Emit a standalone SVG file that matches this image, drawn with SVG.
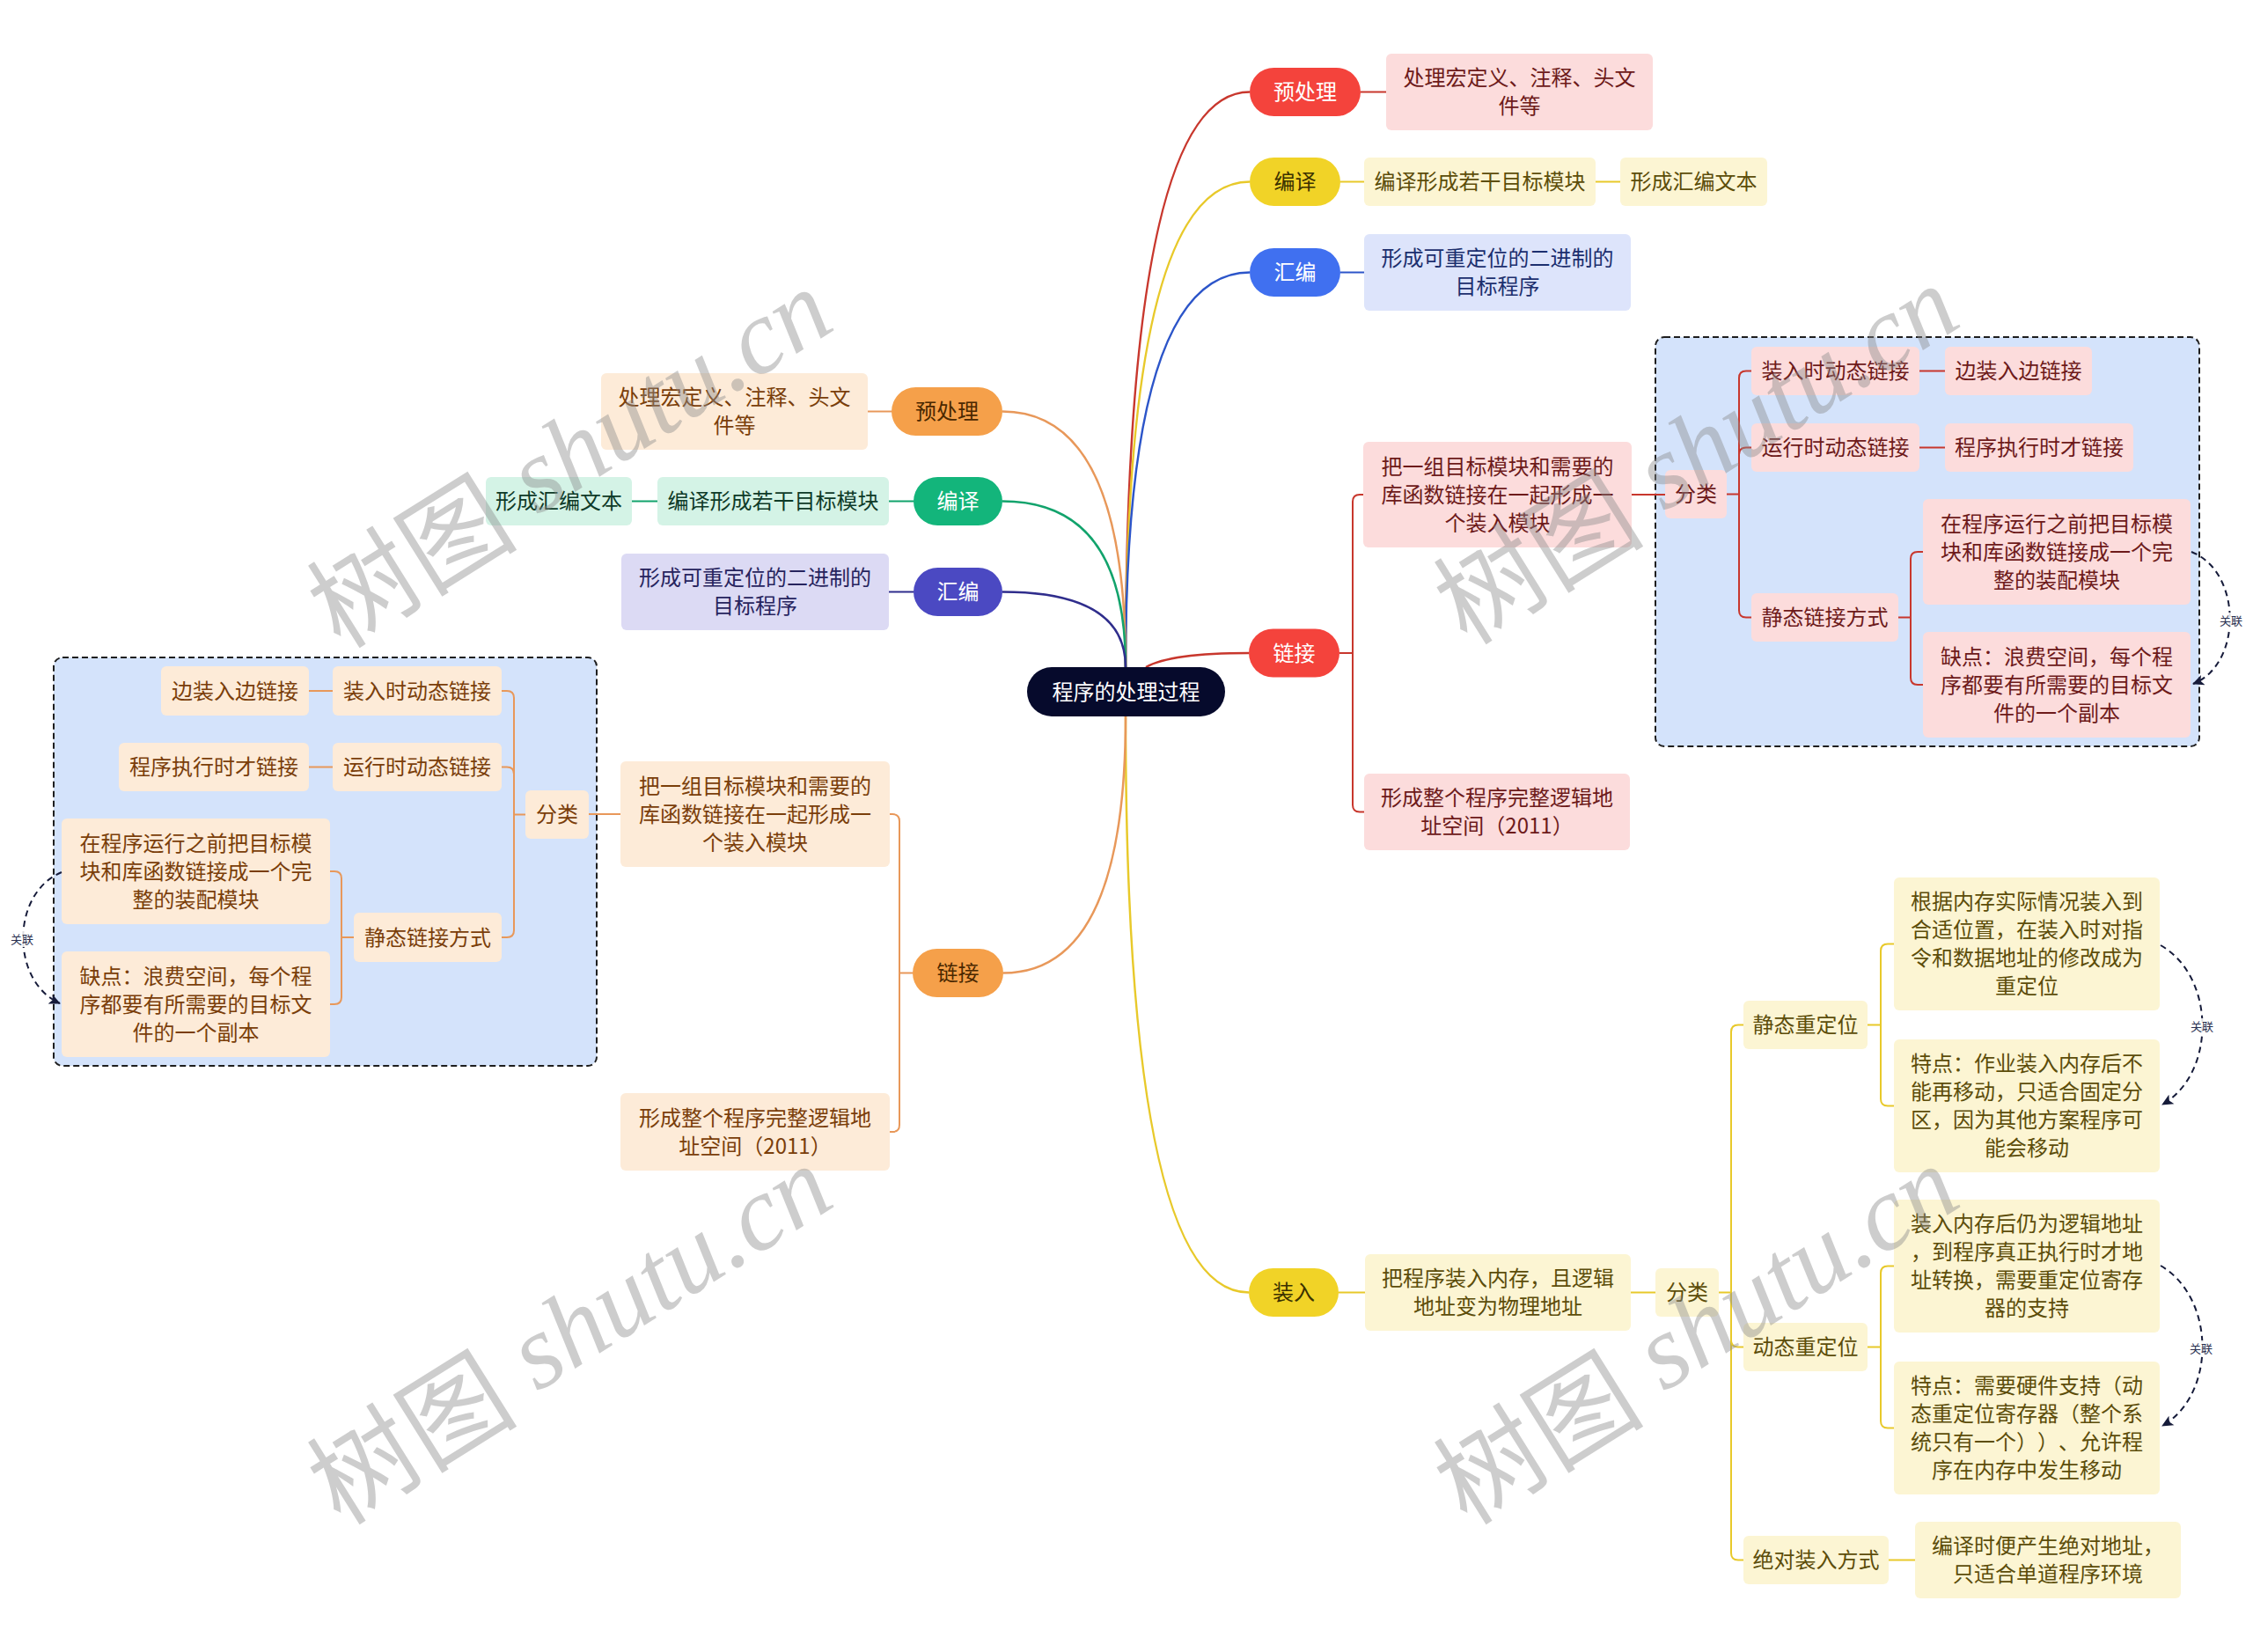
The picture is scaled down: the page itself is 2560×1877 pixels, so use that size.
<svg xmlns="http://www.w3.org/2000/svg" width="2560" height="1877" viewBox="0 0 2560 1877">
<defs>
<style>
.t{font-family:"Noto Sans CJK SC","Noto Sans",sans-serif;font-size:24px;text-anchor:middle;text-spacing-trim:space-all}
.sm{font-family:"Noto Sans CJK SC","Noto Sans",sans-serif;font-size:13px;text-anchor:middle;fill:#2a3050}
.cont{fill:#d4e3fb;stroke:#1e1e1e;stroke-width:2;stroke-dasharray:7 4}
.c{fill:none;stroke-width:2}
.m{fill:none;stroke-width:2.5}
.rel{fill:none;stroke:#161b3a;stroke-width:2;stroke-dasharray:7 5}
.red{stroke:#c8372d}.yel{stroke:#e8c92a}.blu{stroke:#2c55c9}.ora{stroke:#e8985a}.grn{stroke:#12a36c}.pur{stroke:#2f2d8c}
.nRed{fill:#f4433c}.nYel{fill:#f1d327}.nBlu{fill:#4070f0}.nOra{fill:#f5a04a}.nGrn{fill:#13b57b}.nPur{fill:#4b49c2}
.bPink{fill:#fcdcdc}.bYel{fill:#fcf5d3}.bBlu{fill:#dde4fb}.bOra{fill:#fdebd8}.bGrn{fill:#d4f3e6}.bPur{fill:#dcdaf4}
.wT{fill:#ffffff}.dY{fill:#3b3100}.dO{fill:#4a2800}
.tRed{fill:#6d1a1a}.tYel{fill:#5c4d0a}.tBlu{fill:#1c2f6e}.tOra{fill:#7a3e0a}.tGrn{fill:#0e3a28}.tPur{fill:#27245e}
.wm{font-size:120px;fill:#8a8a8a;opacity:0.42}
</style>
<marker id="arr" markerWidth="14" markerHeight="14" refX="12" refY="7" orient="auto" markerUnits="userSpaceOnUse">
<path d="M0,1 L13,7 L0,13 L3,7 Z" fill="#161b3a"/>
</marker>
</defs>
<rect width="2560" height="1877" fill="#ffffff"/>

<!-- containers -->
<rect id="containerRight" class="cont" x="1881" y="383" width="618" height="465" rx="10"/>
<rect id="containerLeft" class="cont" x="61" y="747" width="617" height="464" rx="10"/>

<g id="connectors">
<!-- main curves -->
<path class="m red" d="M1279 758 Q1279 104.5 1420 104.5"/>
<path class="m yel" d="M1279 758 Q1279 206.5 1420 206.5"/>
<path class="m blu" d="M1279 758 Q1279 309.5 1420 309.5"/>
<path class="m red" d="M1302 758 Q1330 742 1419 742"/>
<path class="m yel" d="M1279 814 Q1279 1468.5 1419 1468.5"/>
<path class="m ora" d="M1279 758 Q1279 467.5 1139 467.5"/>
<path class="m grn" d="M1279 758 Q1279 569.5 1139 569.5"/>
<path class="m pur" d="M1279 758 Q1279 672.5 1139 672.5"/>
<path class="m ora" d="M1279 814 Q1279 1105.5 1140 1105.5"/>
<!-- right red -->
<path class="c red" d="M1546 104.5 H1575"/>
<path class="c red" d="M1522 742 H1537 M1549 562 H1545 Q1537 562 1537 570 V914.5 Q1537 922.5 1545 922.5 H1550"/>
<path class="c red" d="M1854 562 H1892"/>
<path class="c red" d="M1962 561.5 H1976 M1990 421.5 H1984 Q1976 421.5 1976 429.5 V693.5 Q1976 701.5 1984 701.5 H1990 M1976 516.5 Q1976 508.5 1984 508.5 H1990"/>
<path class="c red" d="M2181 421.5 H2210 M2181 508.5 H2210"/>
<path class="c red" d="M2157 701.5 H2171 M2185 627 H2179 Q2171 627 2171 635 V770 Q2171 778 2179 778 H2185"/>
<!-- right yellow / blue -->
<path class="c yel" d="M1523 206.5 H1550 M1813 206.5 H1841"/>
<path class="c blu" d="M1523 309.5 H1550"/>
<path class="c yel" d="M1521 1468.5 H1551 M1853 1468.5 H1881"/>
<path class="c yel" d="M1953 1468.5 H1967 M1981 1164.5 H1975 Q1967 1164.5 1967 1172.5 V1764.5 Q1967 1772.5 1975 1772.5 H1981 M1967 1522.5 Q1967 1530.5 1975 1530.5 H1981"/>
<path class="c yel" d="M2122 1164.5 H2137 M2152 1072.5 H2145 Q2137 1072.5 2137 1080.5 V1248.5 Q2137 1256.5 2145 1256.5 H2152"/>
<path class="c yel" d="M2122 1530.5 H2137 M2152 1438.5 H2145 Q2137 1438.5 2137 1446.5 V1614.5 Q2137 1622.5 2145 1622.5 H2152"/>
<path class="c yel" d="M2146 1772.5 H2176"/>
<!-- left -->
<path class="c ora" d="M1013 467.5 H986"/>
<path class="c grn" d="M1038 569.5 H1010 M747 569.5 H718"/>
<path class="c pur" d="M1038 672.5 H1010"/>
<path class="c ora" d="M1037 1105.5 H1022 M1011 925 H1014 Q1022 925 1022 933 V1278 Q1022 1286 1014 1286 H1011"/>
<path class="c ora" d="M705 925 H669"/>
<path class="c ora" d="M597 925.5 H584 M570 785 H576 Q584 785 584 793 V1057 Q584 1065 576 1065 H570 M584 879.5 Q584 871.5 576 871.5 H570"/>
<path class="c ora" d="M378 785 H351 M378 871.5 H351"/>
<path class="c ora" d="M402 1065 H388 M375 990 H380 Q388 990 388 998 V1133 Q388 1141 380 1141 H375"/>
</g>

<g id="n-root"><rect x="1167" y="758" width="225" height="56" rx="28" fill="#060a2c"/><text class="t wT" x="1279.5" y="795">程序的处理过程</text></g>

<!-- right branches -->
<g id="r-pre"><rect class="nRed" x="1420" y="77" width="126" height="55" rx="27.5"/><text class="t wT" x="1483" y="113">预处理</text></g>
<g id="r-pre-1"><rect class="bPink" x="1575" y="61" width="303" height="87" rx="6"/><text class="t tRed" x="1726.5" y="97">处理宏定义、注释、头文</text><text class="t tRed" x="1726.5" y="129">件等</text></g>
<g id="r-comp"><rect class="nYel" x="1420" y="179" width="103" height="55" rx="27.5"/><text class="t dY" x="1471.5" y="215">编译</text></g>
<g id="r-comp-1"><rect class="bYel" x="1550" y="179" width="263" height="55" rx="6"/><text class="t tYel" x="1681.5" y="215">编译形成若干目标模块</text></g>
<g id="r-comp-2"><rect class="bYel" x="1841" y="179" width="167" height="55" rx="6"/><text class="t tYel" x="1924.5" y="215">形成汇编文本</text></g>
<g id="r-asm"><rect class="nBlu" x="1420" y="282" width="103" height="55" rx="27.5"/><text class="t wT" x="1471.5" y="318">汇编</text></g>
<g id="r-asm-1"><rect class="bBlu" x="1550" y="266" width="303" height="87" rx="6"/><text class="t tBlu" x="1701.5" y="302">形成可重定位的二进制的</text><text class="t tBlu" x="1701.5" y="334">目标程序</text></g>
<g id="r-link"><rect class="nRed" x="1419" y="714.5" width="103" height="55" rx="27.5"/><text class="t wT" x="1470.5" y="750.5">链接</text></g>
<g id="r-link-1"><rect class="bPink" x="1549" y="502" width="305" height="120" rx="6"/><text class="t tRed" x="1701.5" y="538.5">把一组目标模块和需要的</text><text class="t tRed" x="1701.5" y="570.5">库函数链接在一起形成一</text><text class="t tRed" x="1701.5" y="602.5">个装入模块</text></g>
<g id="r-link-cls"><rect class="bPink" x="1892" y="534" width="70" height="55" rx="6"/><text class="t tRed" x="1927" y="570">分类</text></g>
<g id="r-link-load"><rect class="bPink" x="1990" y="394" width="191" height="55" rx="6"/><text class="t tRed" x="2085.5" y="430">装入时动态链接</text></g>
<g id="r-link-load-1"><rect class="bPink" x="2210" y="394" width="167" height="55" rx="6"/><text class="t tRed" x="2293.5" y="430">边装入边链接</text></g>
<g id="r-link-run"><rect class="bPink" x="1990" y="481" width="191" height="55" rx="6"/><text class="t tRed" x="2085.5" y="517">运行时动态链接</text></g>
<g id="r-link-run-1"><rect class="bPink" x="2210" y="481" width="214" height="55" rx="6"/><text class="t tRed" x="2317" y="517">程序执行时才链接</text></g>
<g id="r-link-static"><rect class="bPink" x="1990" y="674" width="167" height="55" rx="6"/><text class="t tRed" x="2073.5" y="710">静态链接方式</text></g>
<g id="r-link-static-1"><rect class="bPink" x="2185" y="567" width="304" height="120" rx="6"/><text class="t tRed" x="2337" y="603.5">在程序运行之前把目标模</text><text class="t tRed" x="2337" y="635.5">块和库函数链接成一个完</text><text class="t tRed" x="2337" y="667.5">整的装配模块</text></g>
<g id="r-link-static-2"><rect class="bPink" x="2185" y="718" width="304" height="120" rx="6"/><text class="t tRed" x="2337" y="754.5">缺点：浪费空间，每个程</text><text class="t tRed" x="2337" y="786.5">序都要有所需要的目标文</text><text class="t tRed" x="2337" y="818.5">件的一个副本</text></g>
<g id="r-link-2"><rect class="bPink" x="1550" y="879" width="302" height="87" rx="6"/><text class="t tRed" x="1701" y="915">形成整个程序完整逻辑地</text><text class="t tRed" x="1701" y="947">址空间（2011）</text></g>
<g id="r-load"><rect class="nYel" x="1419" y="1441" width="102" height="55" rx="27.5"/><text class="t dY" x="1470" y="1477">装入</text></g>
<g id="r-load-1"><rect class="bYel" x="1551" y="1425" width="302" height="87" rx="6"/><text class="t tYel" x="1702" y="1461">把程序装入内存，且逻辑</text><text class="t tYel" x="1702" y="1493">地址变为物理地址</text></g>
<g id="r-load-cls"><rect class="bYel" x="1881" y="1441" width="72" height="55" rx="6"/><text class="t tYel" x="1917" y="1477">分类</text></g>
<g id="r-load-static"><rect class="bYel" x="1981" y="1137" width="141" height="55" rx="6"/><text class="t tYel" x="2051.5" y="1173">静态重定位</text></g>
<g id="r-load-static-1"><rect class="bYel" x="2152" y="997" width="302" height="151" rx="6"/><text class="t tYel" x="2303" y="1033">根据内存实际情况装入到</text><text class="t tYel" x="2303" y="1065">合适位置，在装入时对指</text><text class="t tYel" x="2303" y="1097">令和数据地址的修改成为</text><text class="t tYel" x="2303" y="1129">重定位</text></g>
<g id="r-load-static-2"><rect class="bYel" x="2152" y="1181" width="302" height="151" rx="6"/><text class="t tYel" x="2303" y="1217">特点：作业装入内存后不</text><text class="t tYel" x="2303" y="1249">能再移动，只适合固定分</text><text class="t tYel" x="2303" y="1281">区，因为其他方案程序可</text><text class="t tYel" x="2303" y="1313">能会移动</text></g>
<g id="r-load-dyn"><rect class="bYel" x="1981" y="1503" width="141" height="55" rx="6"/><text class="t tYel" x="2051.5" y="1539">动态重定位</text></g>
<g id="r-load-dyn-1"><rect class="bYel" x="2152" y="1363" width="302" height="151" rx="6"/><text class="t tYel" x="2303" y="1399">装入内存后仍为逻辑地址</text><text class="t tYel" x="2303" y="1431">，到程序真正执行时才地</text><text class="t tYel" x="2303" y="1463">址转换，需要重定位寄存</text><text class="t tYel" x="2303" y="1495">器的支持</text></g>
<g id="r-load-dyn-2"><rect class="bYel" x="2152" y="1547" width="302" height="151" rx="6"/><text class="t tYel" x="2303" y="1583">特点：需要硬件支持（动</text><text class="t tYel" x="2303" y="1615">态重定位寄存器（整个系</text><text class="t tYel" x="2303" y="1647">统只有一个））、允许程</text><text class="t tYel" x="2303" y="1679">序在内存中发生移动</text></g>
<g id="r-load-abs"><rect class="bYel" x="1981" y="1745" width="165" height="55" rx="6"/><text class="t tYel" x="2063.5" y="1781">绝对装入方式</text></g>
<g id="r-load-abs-1"><rect class="bYel" x="2176" y="1729" width="302" height="87" rx="6"/><text class="t tYel" x="2327" y="1765">编译时便产生绝对地址，</text><text class="t tYel" x="2327" y="1797">只适合单道程序环境</text></g>

<!-- left branches -->
<g id="l-pre"><rect class="nOra" x="1013" y="440" width="126" height="55" rx="27.5"/><text class="t dO" x="1076" y="476">预处理</text></g>
<g id="l-pre-1"><rect class="bOra" x="683" y="424" width="303" height="87" rx="6"/><text class="t tOra" x="834.5" y="460">处理宏定义、注释、头文</text><text class="t tOra" x="834.5" y="492">件等</text></g>
<g id="l-comp"><rect class="nGrn" x="1038" y="542" width="101" height="55" rx="27.5"/><text class="t wT" x="1088.5" y="578">编译</text></g>
<g id="l-comp-1"><rect class="bGrn" x="747" y="542" width="263" height="55" rx="6"/><text class="t tGrn" x="878.5" y="578">编译形成若干目标模块</text></g>
<g id="l-comp-2"><rect class="bGrn" x="552" y="542" width="166" height="55" rx="6"/><text class="t tGrn" x="635" y="578">形成汇编文本</text></g>
<g id="l-asm"><rect class="nPur" x="1038" y="645" width="101" height="55" rx="27.5"/><text class="t wT" x="1088.5" y="681">汇编</text></g>
<g id="l-asm-1"><rect class="bPur" x="706" y="629" width="304" height="87" rx="6"/><text class="t tPur" x="858" y="665">形成可重定位的二进制的</text><text class="t tPur" x="858" y="697">目标程序</text></g>
<g id="l-link"><rect class="nOra" x="1037" y="1078" width="103" height="55" rx="27.5"/><text class="t dO" x="1088.5" y="1114">链接</text></g>
<g id="l-link-1"><rect class="bOra" x="705" y="865" width="306" height="120" rx="6"/><text class="t tOra" x="858" y="901.5">把一组目标模块和需要的</text><text class="t tOra" x="858" y="933.5">库函数链接在一起形成一</text><text class="t tOra" x="858" y="965.5">个装入模块</text></g>
<g id="l-link-cls"><rect class="bOra" x="597" y="898" width="72" height="55" rx="6"/><text class="t tOra" x="633" y="934">分类</text></g>
<g id="l-link-load"><rect class="bOra" x="378" y="757" width="192" height="56" rx="6"/><text class="t tOra" x="474" y="793.5">装入时动态链接</text></g>
<g id="l-link-load-1"><rect class="bOra" x="183" y="757" width="168" height="56" rx="6"/><text class="t tOra" x="267" y="793.5">边装入边链接</text></g>
<g id="l-link-run"><rect class="bOra" x="378" y="844" width="192" height="55" rx="6"/><text class="t tOra" x="474" y="880">运行时动态链接</text></g>
<g id="l-link-run-1"><rect class="bOra" x="135" y="844" width="216" height="55" rx="6"/><text class="t tOra" x="243" y="880">程序执行时才链接</text></g>
<g id="l-link-static"><rect class="bOra" x="402" y="1037" width="168" height="56" rx="6"/><text class="t tOra" x="486" y="1073.5">静态链接方式</text></g>
<g id="l-link-static-1"><rect class="bOra" x="70" y="930" width="305" height="120" rx="6"/><text class="t tOra" x="222.5" y="966.5">在程序运行之前把目标模</text><text class="t tOra" x="222.5" y="998.5">块和库函数链接成一个完</text><text class="t tOra" x="222.5" y="1030.5">整的装配模块</text></g>
<g id="l-link-static-2"><rect class="bOra" x="70" y="1081" width="305" height="120" rx="6"/><text class="t tOra" x="222.5" y="1117.5">缺点：浪费空间，每个程</text><text class="t tOra" x="222.5" y="1149.5">序都要有所需要的目标文</text><text class="t tOra" x="222.5" y="1181.5">件的一个副本</text></g>
<g id="l-link-2"><rect class="bOra" x="705" y="1242" width="306" height="88" rx="6"/><text class="t tOra" x="858" y="1278.5">形成整个程序完整逻辑地</text><text class="t tOra" x="858" y="1310.5">址空间（2011）</text></g>

<g id="relations">
<path class="rel" d="M70 991 C12 1015 12 1115 68 1140" marker-end="url(#arr)"/>
<rect x="9" y="1058" width="32" height="18" fill="#ffffff" opacity="0.85"/><text class="sm" x="25" y="1072">关联</text>
<path class="rel" d="M2490 627 C2548 650 2548 755 2492 777" marker-end="url(#arr)"/>
<rect x="2519" y="696" width="32" height="18" fill="#ffffff" opacity="0.85"/><text class="sm" x="2535" y="710">关联</text>
<path class="rel" d="M2455 1074 C2518 1110 2518 1220 2457 1255" marker-end="url(#arr)"/>
<rect x="2486" y="1157" width="32" height="18" fill="#ffffff" opacity="0.85"/><text class="sm" x="2502" y="1171">关联</text>
<path class="rel" d="M2455 1438 C2518 1475 2518 1585 2457 1620" marker-end="url(#arr)"/>
<rect x="2485" y="1523" width="32" height="18" fill="#ffffff" opacity="0.85"/><text class="sm" x="2501" y="1537">关联</text>
</g>

<g id="watermarks">
<text class="wm" transform="translate(645 516) rotate(-32)" text-anchor="middle" dominant-baseline="central"><tspan font-family="Noto Sans CJK SC,sans-serif">树图</tspan><tspan font-family="Liberation Serif,serif" font-style="italic"> shutu.cn</tspan></text>
<text class="wm" transform="translate(645 1512) rotate(-32)" text-anchor="middle" dominant-baseline="central"><tspan font-family="Noto Sans CJK SC,sans-serif">树图</tspan><tspan font-family="Liberation Serif,serif" font-style="italic"> shutu.cn</tspan></text>
<text class="wm" transform="translate(1925 512) rotate(-32)" text-anchor="middle" dominant-baseline="central"><tspan font-family="Noto Sans CJK SC,sans-serif">树图</tspan><tspan font-family="Liberation Serif,serif" font-style="italic"> shutu.cn</tspan></text>
<text class="wm" transform="translate(1925 1512) rotate(-32)" text-anchor="middle" dominant-baseline="central"><tspan font-family="Noto Sans CJK SC,sans-serif">树图</tspan><tspan font-family="Liberation Serif,serif" font-style="italic"> shutu.cn</tspan></text>
</g>
</svg>
